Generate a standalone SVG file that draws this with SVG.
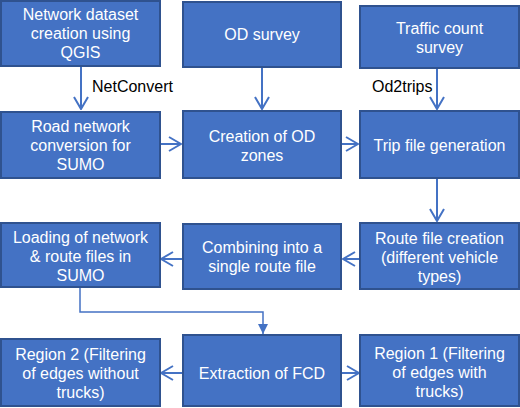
<svg xmlns="http://www.w3.org/2000/svg" width="520" height="408" viewBox="0 0 520 408">
<defs>
<style>
.box{fill:#4472C4;stroke:#2F528F;stroke-width:2}
.t{font-family:"Liberation Sans",Arial,sans-serif;font-size:16px;fill:#ffffff;text-anchor:middle}
.lbl{font-family:"Liberation Sans",Arial,sans-serif;font-size:16px;fill:#000000}
.c{fill:none;stroke:#4472C4;stroke-width:2}
.c2{fill:none;stroke:#4472C4;stroke-width:1.5}
</style>
<marker id="open" viewBox="0 0 14 16" refX="13" refY="8" markerWidth="14" markerHeight="16" markerUnits="userSpaceOnUse" orient="auto">
<path d="M1,1 L13,8 L1,15" fill="none" stroke="#4472C4" stroke-width="2"/>
</marker>
<marker id="tri" viewBox="0 0 10 10" refX="10" refY="5" markerWidth="10" markerHeight="10" markerUnits="userSpaceOnUse" orient="auto">
<path d="M0,0 L10,5 L0,10 Z" fill="#4472C4"/>
</marker>
</defs>
<rect width="520" height="408" fill="#ffffff"/>
<g id="connectors">
<line class="c" x1="81" y1="66" x2="81" y2="109" marker-end="url(#open)"/>
<line class="c" x1="262" y1="67" x2="262" y2="109" marker-end="url(#open)"/>
<line class="c" x1="437" y1="68" x2="437" y2="109" marker-end="url(#open)"/>
<line class="c" x1="160" y1="144" x2="181" y2="144" marker-end="url(#open)"/>
<line class="c" x1="341" y1="144" x2="358" y2="144" marker-end="url(#open)"/>
<line class="c" x1="437" y1="178" x2="437" y2="221" marker-end="url(#open)"/>
<line class="c" x1="360" y1="259" x2="343" y2="259" marker-end="url(#open)"/>
<line class="c" x1="183" y1="259" x2="161" y2="259" marker-end="url(#open)"/>
<polyline class="c2" points="80,287 80,312 263,312 263,334" marker-end="url(#tri)"/>
<line class="c" x1="183" y1="373" x2="161" y2="373" marker-end="url(#open)"/>
<line class="c" x1="342" y1="373" x2="359" y2="373" marker-end="url(#open)"/>
<text class="lbl" x="92" y="92">NetConvert</text>
<text class="lbl" x="372" y="92">Od2trips</text>
</g>
<g id="n1"><rect class="box" x="1" y="1" width="159" height="65"/>
<text class="t" x="80.5" y="20">Network dataset</text><text class="t" x="80.5" y="39">creation using</text><text class="t" x="80.5" y="58">QGIS</text></g>
<g id="n2"><rect class="box" x="183" y="2" width="158" height="65"/>
<text class="t" x="262" y="40">OD survey</text></g>
<g id="n3"><rect class="box" x="360" y="6" width="159" height="62"/>
<text class="t" x="439.5" y="34">Traffic count</text><text class="t" x="439.5" y="53">survey</text></g>
<g id="n4"><rect class="box" x="1" y="112" width="159" height="66"/>
<text class="t" x="80.5" y="132">Road network</text><text class="t" x="80.5" y="151">conversion for</text><text class="t" x="80.5" y="170">SUMO</text></g>
<g id="n5"><rect class="box" x="183" y="111" width="158" height="67"/>
<text class="t" x="262" y="142">Creation of OD</text><text class="t" x="262" y="161">zones</text></g>
<g id="n6"><rect class="box" x="360" y="111" width="159" height="67"/>
<text class="t" x="439.5" y="151">Trip file generation</text></g>
<g id="n7"><rect class="box" x="1" y="223" width="159" height="64"/>
<text class="t" x="80.5" y="243">Loading of network</text><text class="t" x="80.5" y="262">&amp; route files in</text><text class="t" x="80.5" y="281">SUMO</text></g>
<g id="n8"><rect class="box" x="183" y="224" width="158" height="65"/>
<text class="t" x="262" y="253">Combining into a</text><text class="t" x="262" y="272">single route file</text></g>
<g id="n9"><rect class="box" x="360" y="223" width="159" height="66"/>
<text class="t" x="439.5" y="244">Route file creation</text><text class="t" x="439.5" y="263">(different vehicle</text><text class="t" x="439.5" y="282">types)</text></g>
<g id="n10"><rect class="box" x="1" y="339" width="159" height="67"/>
<text class="t" x="80.5" y="360">Region 2 (Filtering</text><text class="t" x="80.5" y="379">of edges without</text><text class="t" x="80.5" y="398">trucks)</text></g>
<g id="n11"><rect class="box" x="183" y="335" width="158" height="71"/>
<text class="t" x="262" y="379">Extraction of FCD</text></g>
<g id="n12"><rect class="box" x="360" y="335" width="159" height="71"/>
<text class="t" x="439.5" y="359">Region 1 (Filtering</text><text class="t" x="439.5" y="378">of edges with</text><text class="t" x="439.5" y="397">trucks)</text></g>
</svg>
